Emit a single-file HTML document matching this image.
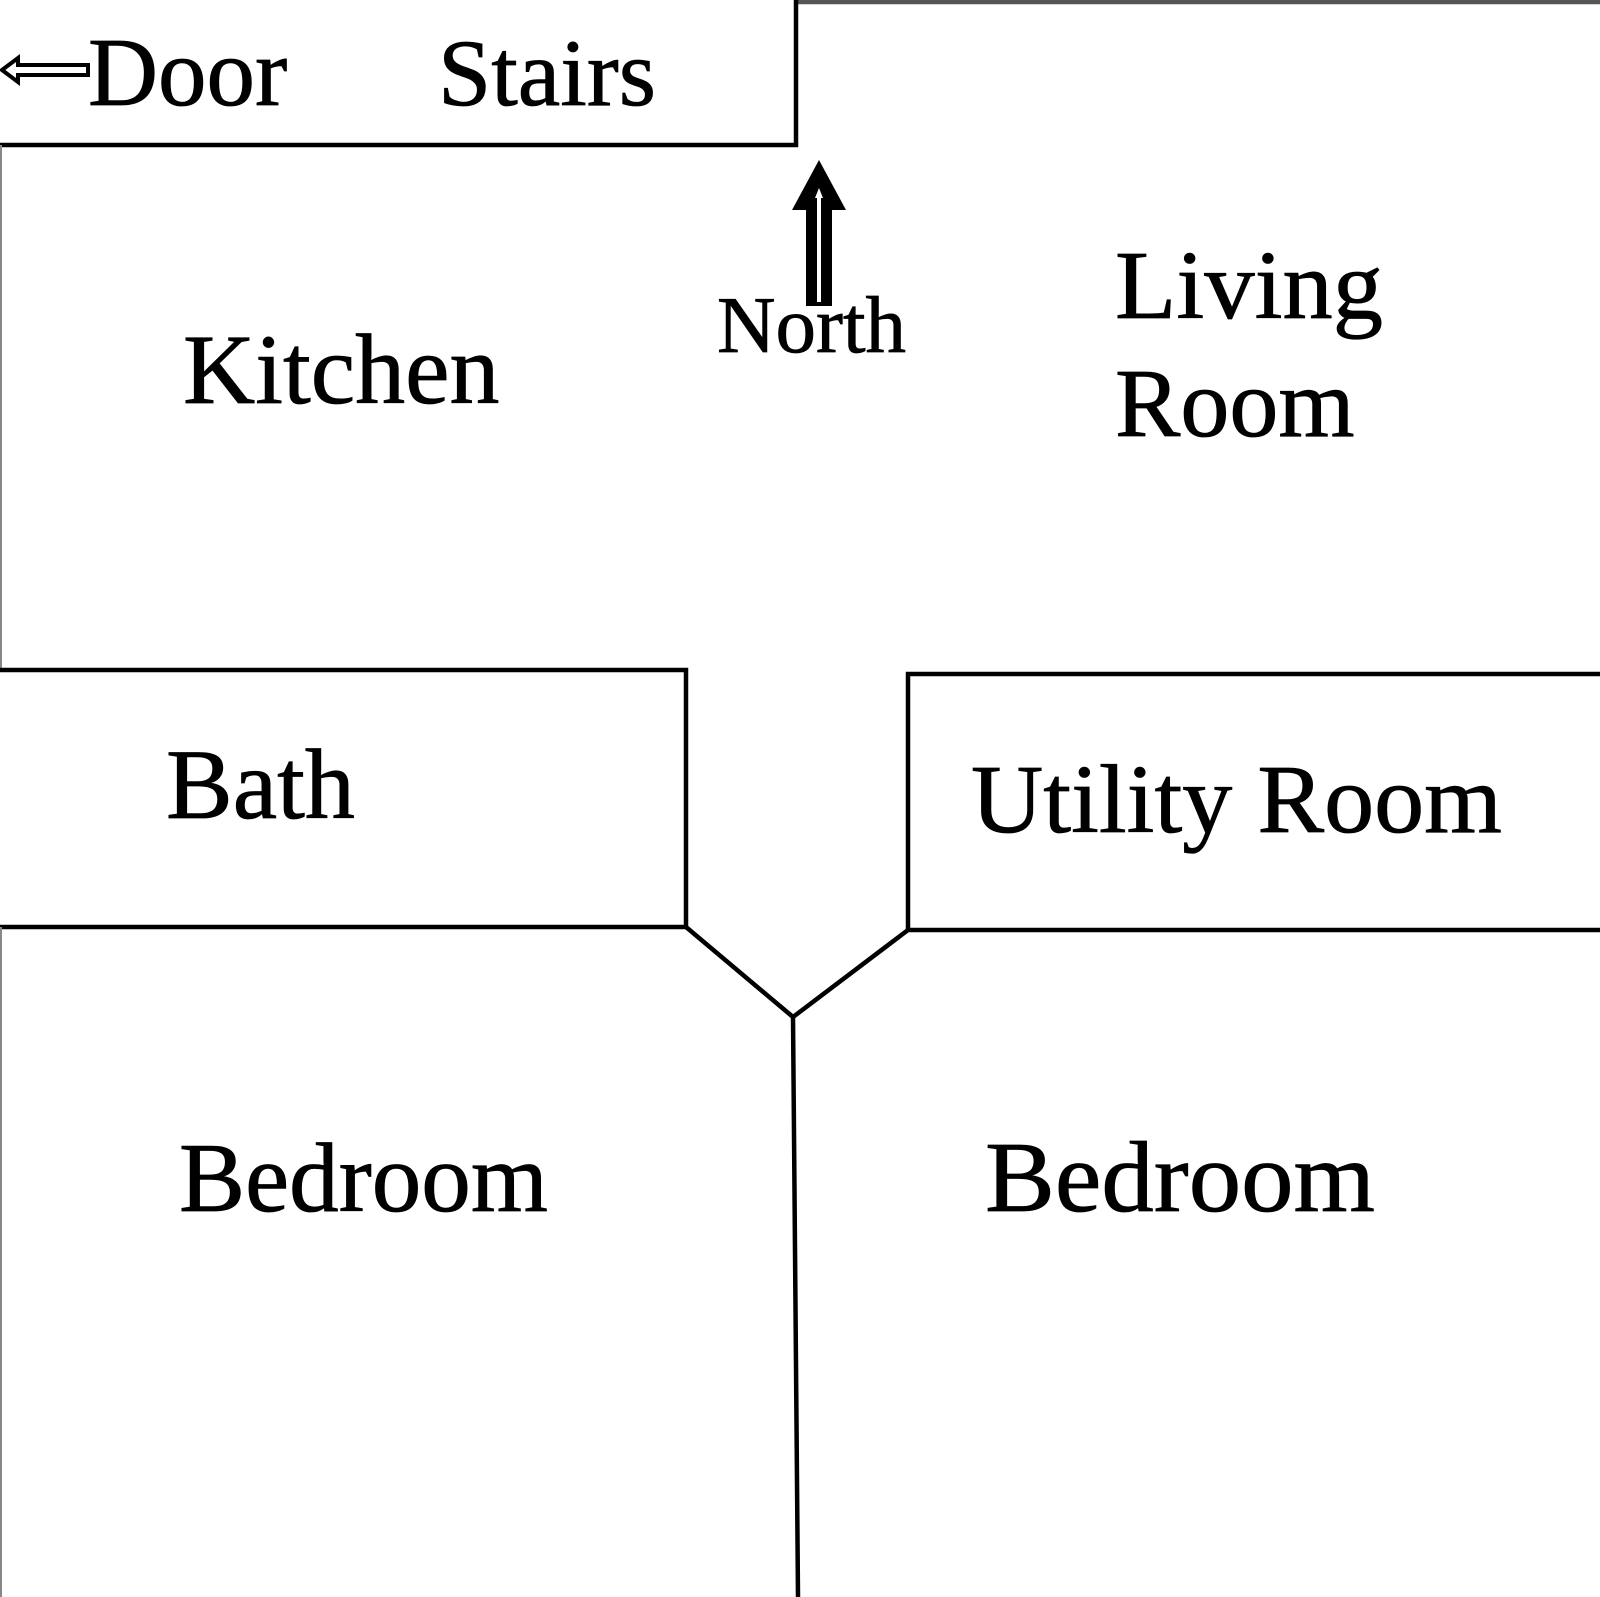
<!DOCTYPE html>
<html><head><style>
html,body{margin:0;padding:0;background:#fff;}
svg{display:block;}
text{font-family:"Liberation Serif",serif;fill:#000;stroke:#000;stroke-width:0.8;}
</style></head><body>
<svg width="1600" height="1597" viewBox="0 0 1600 1597" xmlns="http://www.w3.org/2000/svg">
<g stroke="#000" stroke-width="4.5" fill="none">
<line x1="796" y1="2" x2="1600" y2="2" stroke="#555"/>
<polyline points="796,0 796,145 0,145"/>
<line x1="1" y1="145" x2="1" y2="670" stroke="#888" stroke-width="2"/>
<polyline points="0,670 686,670 686,927 0,927"/>
<line x1="1" y1="927" x2="1" y2="1597" stroke="#888" stroke-width="2"/>
<polyline points="1600,674 908,674 908,930 1600,930"/>
<polyline points="686,927 793,1017 908,930"/>
<line x1="793" y1="1017" x2="798" y2="1597"/>
</g>
<polygon points="2,70 18,58 18,65 88,65 88,75 18,75 18,82" fill="#fff" stroke="#000" stroke-width="4"/>
<polygon points="819,160 846,210 832,210 832,306 806,306 806,210 792,210" fill="#000"/>
<polygon points="819,188 823,198 821,198 821,302 817,302 817,198 815,198" fill="#fff"/>
<text x="88" y="105" font-size="97">Door</text>
<text x="438" y="105" font-size="95" textLength="218" lengthAdjust="spacingAndGlyphs">Stairs</text>
<text x="183" y="403" font-size="100">Kitchen</text>
<text x="717" y="352" font-size="81">North</text>
<text x="1115" y="318" font-size="98" textLength="268" lengthAdjust="spacingAndGlyphs">Living</text>
<text x="1115" y="436" font-size="98">Room</text>
<text x="166" y="818" font-size="100">Bath</text>
<text x="971" y="832" font-size="98" textLength="531" lengthAdjust="spacingAndGlyphs">Utility Room</text>
<text x="179" y="1211" font-size="99" textLength="369" lengthAdjust="spacingAndGlyphs">Bedroom</text>
<text x="985" y="1211" font-size="101" textLength="390" lengthAdjust="spacingAndGlyphs">Bedroom</text>
</svg>
</body></html>
